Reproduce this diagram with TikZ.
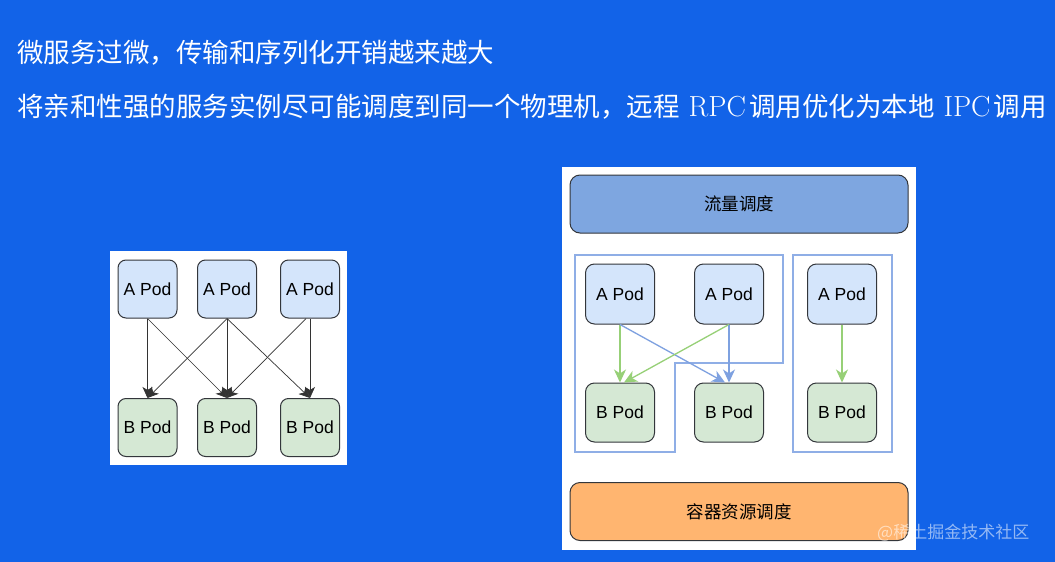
\documentclass[tikz,border=0pt]{standalone}
\usepackage{fontspec}
\usetikzlibrary{arrows.meta}
\newfontfamily\cjk{Noto Sans CJK SC}
\newfontfamily\arial{Liberation Sans}
\definecolor{bg}{RGB}{18,99,232}
\definecolor{podA}{HTML}{D4E5FB}
\definecolor{podB}{HTML}{D5E8D4}
\definecolor{podline}{HTML}{33363B}
\definecolor{flowfill}{HTML}{7EA6E0}
\definecolor{resfill}{HTML}{FFB570}
\definecolor{grp}{HTML}{8FAEE6}
\definecolor{gline}{HTML}{97D077}
\definecolor{bline}{HTML}{7EA1E0}
\tikzset{
  title/.style={anchor=west, inner sep=0pt, text=white, font=\cjk\fontsize{26.5}{30}\selectfont},
  podbox/.style={draw=podline, line width=1pt, rounded corners=8pt, inner sep=0pt, font=\arial\fontsize{17.5}{20}\selectfont},
  lpoda/.style={podbox, fill=podA, minimum width=59pt, minimum height=58pt},
  lpodb/.style={podbox, fill=podB, minimum width=59pt, minimum height=58pt},
  rpoda/.style={podbox, fill=podA, minimum width=69pt, minimum height=60pt, rounded corners=9pt},
  rpodb/.style={podbox, fill=podB, minimum width=69pt, minimum height=59pt, rounded corners=9pt},
  bigbox/.style={draw=podline, line width=1pt, rounded corners=10pt, minimum width=338pt, minimum height=58pt, font=\cjk\fontsize{17.5}{20}\selectfont},
  blackarrow/.style={draw=black!80, line width=0.7pt, -{Stealth[length=11pt,width=10pt,inset=3pt]}},
  greenarrow/.style={draw=gline, line width=1.3pt, -{Stealth[length=13pt,width=12pt,inset=4pt]}},
  bluearrow/.style={draw=bline, line width=1.3pt, -{Stealth[length=13pt,width=12pt,inset=4pt]}},
  group/.style={draw=grp, line width=1.3pt},
}
\newcommand{\lat}[1]{{\rmfamily\fontsize{29}{30}\selectfont #1}}
\begin{document}
\begin{tikzpicture}[x=1pt,y=-1pt]
\fill[bg] (0,0) rectangle (1055,562);
\useasboundingbox (0,0) rectangle (1055,562);

% titles
\node[title] (t1) at (17,53) {微服务过微，传输和序列化开销越来越大};
\node[title] (t2) at (17,107) {将亲和性强的服务实例尽可能调度到同一个物理机，远程\hspace{9pt}\lat{RPC}\hspace{3pt}调用优化为本地\hspace{9pt}\lat{IPC}\hspace{3pt}调用};

% left diagram
\fill[white] (110,251) rectangle (347,465);
\node[lpoda] (a1) at (147.5,289) {A Pod};
\node[lpoda] (a2) at (227,289) {A Pod};
\node[lpoda] (a3) at (310,289) {A Pod};
\node[lpodb] (b1) at (147.5,427.5) {B Pod};
\node[lpodb] (b2) at (227,427.5) {B Pod};
\node[lpodb] (b3) at (310,427.5) {B Pod};
\draw[blackarrow] (a1.south) -- (b1.north);
\draw[blackarrow] (a1.south) -- (b2.north);
\draw[blackarrow] (a2.south) -- (b1.north);
\draw[blackarrow] (a2.south) -- (b2.north);
\draw[blackarrow] (a2.south) -- (b3.north);
\draw[blackarrow] ([xshift=-4pt]a3.south) -- (b2.north);
\draw[blackarrow] (a3.south) -- (b3.north);

% right diagram
\fill[white] (562,167) rectangle (916,550);
\node[bigbox, fill=flowfill] (flow) at (739,204) {流量调度};
\node[bigbox, fill=resfill] (res) at (739,511.5) {容器资源调度};
\draw[group] (575,255) -- (783,255) -- (783,363) -- (675,363) -- (675,452) -- (575,452) -- cycle;
\draw[group] (793,255) rectangle (892,452);
\node[rpoda] (ra1) at (620,294) {A Pod};
\node[rpoda] (ra2) at (729,294) {A Pod};
\node[rpoda] (ra3) at (842,294) {A Pod};
\node[rpodb] (rb1) at (620,412.5) {B Pod};
\node[rpodb] (rb2) at (729,412.5) {B Pod};
\node[rpodb] (rb3) at (842,412.5) {B Pod};
\draw[greenarrow] (ra1.south) -- (rb1.north);
\draw[bluearrow] (ra1.south) -- ([xshift=-4pt]rb2.north);
\draw[greenarrow] (ra2.south) -- ([xshift=4pt]rb1.north);
\draw[bluearrow] (ra2.south) -- (rb2.north);
\draw[greenarrow] (ra3.south) -- (rb3.north);

% site mark
\node[anchor=west, inner sep=0pt, text=white, opacity=0.55, font=\cjk\fontsize{17}{20}\selectfont] (mark) at (877,533) {@稀土掘金技术社区};
\end{tikzpicture}
\end{document}
